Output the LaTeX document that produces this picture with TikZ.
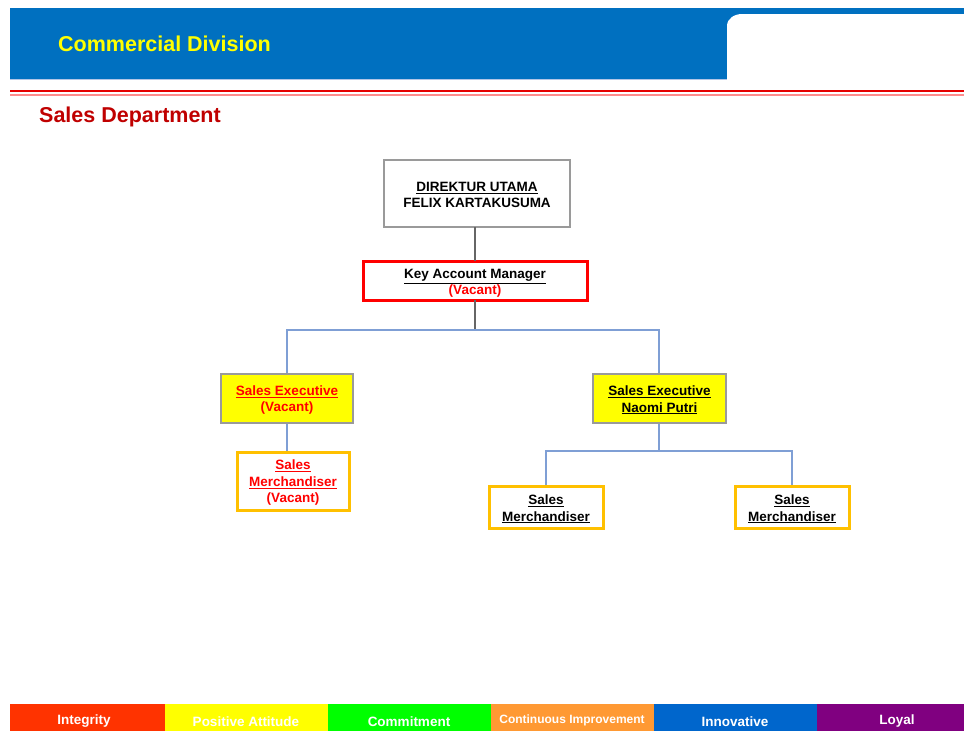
\documentclass[tikz,border=0pt]{standalone}
\usepackage{fontspec}
\setmainfont{Liberation Sans}
\definecolor{hdrblue}{HTML}{0070C0}
\definecolor{deptred}{HTML}{C00000}
\definecolor{linkblue}{HTML}{7F9FD5}
\definecolor{boxgray}{HTML}{9A9A9A}
\definecolor{vacred}{HTML}{FF0000}
\definecolor{smorange}{HTML}{FFC000}
\definecolor{seyellow}{HTML}{FFFF00}
\definecolor{vInt}{HTML}{FF3300}
\definecolor{vPos}{HTML}{FFFF00}
\definecolor{vCom}{HTML}{00FF00}
\definecolor{vCon}{HTML}{FF9933}
\definecolor{vInn}{HTML}{0066CC}
\definecolor{vLoy}{HTML}{800080}
\tikzset{
  boxtext/.style={font=\bfseries\fontsize{13.5}{16.5}\selectfont, align=center, inner sep=0pt},
  dirbox/.style={draw=boxgray, line width=1.2pt, fill=white},
  kambox/.style={draw=vacred, line width=3pt, fill=white},
  sebox/.style={draw=boxgray, line width=1.2pt, fill=seyellow},
  smbox/.style={draw=smorange, line width=3pt, fill=white},
  graylink/.style={draw=gray!80!black, line width=1.2pt},
  bluelink/.style={draw=linkblue, line width=1.2pt},
  valtext/.style={text=white, font=\bfseries\fontsize{13.5}{15}\selectfont},
}
\begin{document}
\begin{tikzpicture}[x=1pt,y=-1pt]
\useasboundingbox (0,0) rectangle (964,731);
\fill[white] (0,0) rectangle (964,731);
% header
\fill[hdrblue] (10,8) rectangle (964,79);
\fill[white] (727,79) -- (727,26) to[out=90,in=180] (742,14) -- (964,14) -- (964,79) -- cycle;
\draw[linkblue!60, line width=0.8pt] (10,79.5) -- (727,79.5);
\draw[vacred!90!black, line width=2pt] (10,91) -- (964,91);
\draw[vacred!45, line width=2pt] (10,94.5) -- (964,94.5);
\node[anchor=west, text=seyellow, font=\bfseries\fontsize{21.5}{24}\selectfont, inner sep=0pt] (title) at (58,44) {Commercial Division};
\node[anchor=west, text=deptred, font=\bfseries\fontsize{21.5}{24}\selectfont, inner sep=0pt] (dept) at (39,117) {Sales Department};
% boxes
\path[dirbox] (384,160) rectangle (570,227);
\node[boxtext] (dir) at (477,195) {\underline{DIREKTUR UTAMA}\\FELIX KARTAKUSUMA};
\coordinate (dirB) at (475,227);
\path[kambox] (363,261) rectangle (587,300);
\node[boxtext] (kam) at (475,283.5) {\underline{Key Account Manager}\\\textcolor{vacred}{(Vacant)}};
\coordinate (kamT) at (475,261);
\coordinate (kamB) at (475,300);
\path[sebox] (221,374) rectangle (353,423);
\node[boxtext, text=vacred] (sel) at (287,400) {\underline{Sales Executive}\\(Vacant)};
\path[sebox] (593,374) rectangle (726,423);
\node[boxtext] (ser) at (659.5,400) {\underline{Sales Executive}\\\underline{Naomi Putri}};
\path[smbox] (237,452) rectangle (349,510);
\node[boxtext, text=vacred] (sml) at (293,483) {\underline{Sales}\\\underline{Merchandiser}\\(Vacant)};
\path[smbox] (489,486) rectangle (603,528);
\node[boxtext] (smm) at (546,509) {\underline{Sales}\\\underline{Merchandiser}};
\path[smbox] (735,486) rectangle (849,528);
\node[boxtext] (smr) at (792,509) {\underline{Sales}\\\underline{Merchandiser}};
% connectors
\coordinate (j1) at (475,330);
\coordinate (selT) at (287,373);
\coordinate (serT) at (659,373);
\coordinate (selB) at (287,424);
\coordinate (sermB) at (659,424);
\coordinate (smlT) at (287,450.5);
\coordinate (j2) at (659,451);
\coordinate (smmT) at (546,484.5);
\coordinate (smrT) at (792,484.5);
\draw[graylink] (dirB) -- (kamT);
\draw[graylink] (kamB) -- (j1);
\draw[bluelink] (selT) |- (j1) -| (serT);
\draw[bluelink] (selB) -- (smlT);
\draw[bluelink] (sermB) -- (j2);
\draw[bluelink] (smmT) |- (j2) -| (smrT);
% values bar
\fill[vInt] (10,704) rectangle (165,731);
\fill[vPos] (165,704) rectangle (328,731);
\fill[vCom] (328,704) rectangle (491,731);
\fill[vCon] (491,704) rectangle (654,731);
\fill[vInn] (654,704) rectangle (817,731);
\fill[vLoy] (817,704) rectangle (964,731);
\node[valtext] (v1) at (84,721.5) {Integrity};
\node[valtext] (v2) at (246,721.5) {Positive Attitude};
\node[valtext] (v3) at (409,721.5) {Commitment};
\node[valtext, font=\bfseries\fontsize{12}{13}\selectfont] (v4) at (572,720.5) {Continuous Improvement};
\node[valtext] (v5) at (735,721.5) {Innovative};
\node[valtext] (v6) at (897,721.5) {Loyal};
\end{tikzpicture}
\end{document}
